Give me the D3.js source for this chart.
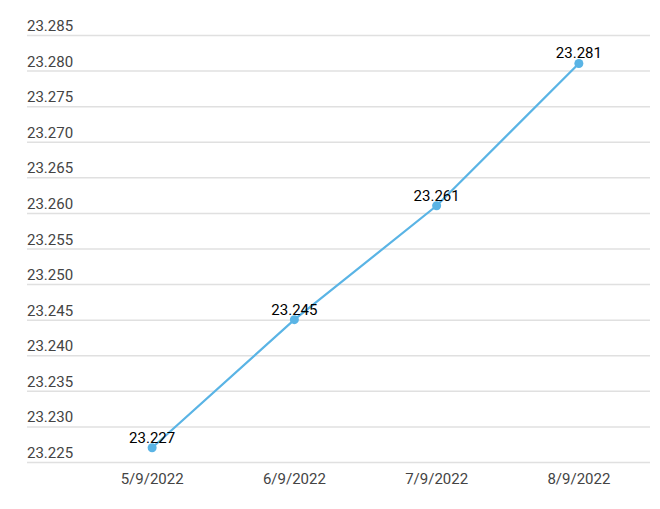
<!DOCTYPE html>
<html>
<head>
  <meta charset="UTF-8">
  <style>
    body { margin: 0; background: #fff; }
    svg text { font-family: Roboto, "Open Sans", sans-serif; }
  </style>
</head>
<body>
<svg id="chart"></svg>
<script src="https://d3js.org/d3.v7.min.js"></script>
<script>
const dates = ["5/9/2022", "6/9/2022", "7/9/2022", "8/9/2022"];
const values = [23.227, 23.245, 23.261, 23.281];
const yTicks = [23.225, 23.230, 23.235, 23.240, 23.245, 23.250, 23.255, 23.260, 23.265, 23.270, 23.275, 23.280, 23.285];

const width = 660, height = 509;
const svg = d3.select("#chart").attr("width", width).attr("height", height);

const x = d3.scalePoint().domain(dates).range([81, 650]).padding(0.5);
const y = d3.scaleLinear().domain([23.225, 23.285]).range([462, 35]);

// gridlines + labels sitting above them
const grid = svg.append("g");
grid.selectAll("line").data(yTicks).enter().append("line")
    .attr("x1", 27).attr("x2", 650)
    .attr("y1", d => y(d) + 0.5).attr("y2", d => y(d) + 0.5)
    .attr("stroke", "#e0e0e0").attr("stroke-width", 1.5);
grid.selectAll("text").data(yTicks).enter().append("text")
    .attr("x", 27).attr("y", d => y(d) - 4)
    .attr("font-size", 15).attr("fill", "#444")
    .text(d => d3.format(".3f")(d));

// x labels
svg.append("g").selectAll("text").data(dates).enter().append("text")
    .attr("x", d => x(d)).attr("y", 484)
    .attr("text-anchor", "middle").attr("font-size", 15).attr("fill", "#444")
    .text(d => d);

const pts = dates.map((d, i) => ({ date: d, v: values[i] }));

svg.append("path").datum(pts)
    .attr("fill", "none").attr("stroke", "#5ab4e5").attr("stroke-width", 2.2)
    .attr("d", d3.line().x(d => x(d.date)).y(d => y(d.v)));

svg.append("g").selectAll("circle").data(pts).enter().append("circle")
    .attr("cx", d => x(d.date)).attr("cy", d => y(d.v)).attr("r", 4.5)
    .attr("fill", "#5ab4e5");

svg.append("g").selectAll("text").data(pts).enter().append("text")
    .attr("x", d => x(d.date)).attr("y", d => y(d.v) - 5)
    .attr("text-anchor", "middle").attr("font-size", 15).attr("fill", "#000")
    .text(d => d3.format(".3f")(d.v));
</script>
</body>
</html>
